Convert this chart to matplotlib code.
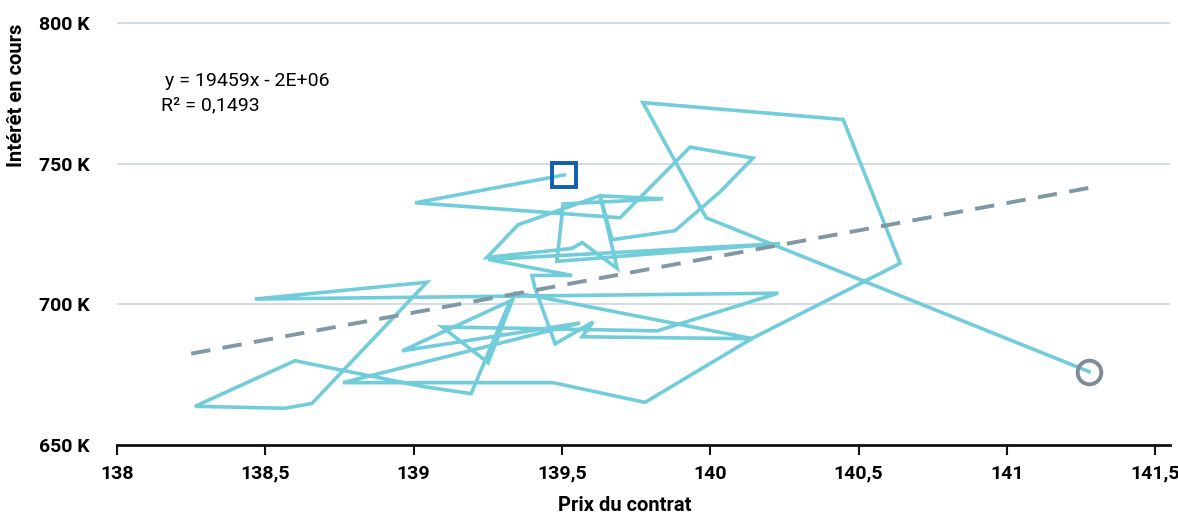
import matplotlib
matplotlib.use("Agg")
import matplotlib.pyplot as plt
from matplotlib.ticker import FuncFormatter

plt.rcParams["font.family"] = ["Roboto", "DejaVu Sans"]

# contract price vs open interest (K), in time order
price = [
    139.507, 139.005, 139.696, 139.932, 140.144, 140.033, 139.881, 139.669,
    139.628, 139.686, 139.568, 139.534, 139.247, 139.352, 139.628, 139.841,
    139.504, 139.483, 140.235, 139.251, 139.534, 139.399, 139.409, 139.477,
    139.605, 139.568, 140.144, 139.426, 139.342, 139.251, 139.096, 139.821,
    140.229, 138.465, 139.045, 138.657, 138.566, 138.263, 138.600, 139.032,
    139.194, 139.325, 138.961, 139.561, 138.762, 139.470, 139.780, 140.144,
    140.640, 140.448, 139.773, 139.986, 141.277,
]
open_interest = [
    746.0, 736.1, 730.8, 755.9, 752.0, 740.0, 726.2, 723.0,
    738.9, 712.8, 722.0, 719.9, 716.7, 728.3, 738.6, 737.5,
    735.7, 715.3, 721.6, 716.0, 710.3, 710.3, 705.8, 686.0,
    693.8, 688.5, 687.8, 702.6, 704.0, 679.3, 692.0, 690.6,
    704.0, 701.9, 707.9, 664.8, 663.1, 663.8, 680.0, 670.8,
    668.3, 701.2, 683.5, 693.4, 672.2, 672.2, 665.2, 688.1,
    714.6, 765.7, 771.7, 730.8, 676.1,
]

trend_x = [138.25, 141.28]
trend_slope = 19459
trend_intercept = -2007700
equation_lines = ["y = 19459x - 2E+06", "R² = 0,1493"]

x_ticks = [138, 138.5, 139, 139.5, 140, 140.5, 141, 141.5]
y_ticks = [650, 700, 750, 800]

LINE = "#72CDDB"
fig = plt.figure(figsize=(11.78, 5.17), dpi=100)
ax = fig.add_axes([0.0993, 0.139, 0.894, 0.822])

ax.plot(price, open_interest, color=LINE, lw=2.6, solid_joinstyle="miter", zorder=3)
trend_y = [(trend_slope * x + trend_intercept) / 1000 for x in trend_x]
ax.plot(trend_x, trend_y, color="#8097A5", lw=2.8, dashes=(5, 3.2), zorder=4)
ax.plot(price[0], open_interest[0], marker="s", ms=17, mfc="none", mec="#1160AE", mew=2.8, zorder=5)
ax.plot(price[-1], open_interest[-1], marker="o", ms=17, mfc="none", mec="#7D8C96", mew=2.8, zorder=5)

ax.text(138.162, 779.5, equation_lines[0], fontsize=14, va="center", ha="left")
ax.text(138.150, 770.7, equation_lines[1], fontsize=14, va="center", ha="left")

ax.set_xlim(138, 141.55)
ax.set_ylim(650, 801)
ax.set_xticks(x_ticks)
ax.set_yticks(y_ticks)
ax.xaxis.set_major_formatter(FuncFormatter(lambda v, p: f"{v:g}".replace(".", ",")))
ax.yaxis.set_major_formatter(FuncFormatter(lambda v, p: f"{v:.0f} K"))
ax.tick_params(axis="x", length=7, width=1.5, color="#111111", labelsize=14, pad=7)
ax.tick_params(axis="y", length=0, labelsize=14, pad=20)
for lab in ax.get_xticklabels() + ax.get_yticklabels():
    lab.set_fontweight("bold")

ax.grid(axis="y", color="#CBD5E0", lw=1.2)
ax.set_axisbelow(True)
for side in ["top", "right", "left"]:
    ax.spines[side].set_visible(False)
ax.spines["bottom"].set_linewidth(2)
ax.spines["bottom"].set_color("#111111")
ax.spines["bottom"].set_zorder(6)

fig.text(0.5306, 0.022, "Prix du contrat", ha="center", va="center", fontsize=14.5, fontweight="bold")
fig.text(0.0144, 0.815, "Intérêt en cours", ha="center", va="center", rotation=90, fontsize=14.5, fontweight="bold")

fig.savefig("out.png", dpi=100)
